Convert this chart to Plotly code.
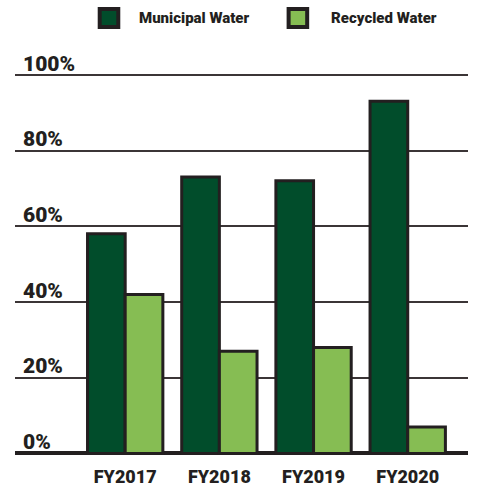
import plotly.graph_objects as go

categories = ["FY2017", "FY2018", "FY2019", "FY2020"]
municipal = [58, 73, 72, 93]
recycled = [42, 27, 28, 7]
tick_vals = [0, 20, 40, 60, 80, 100]
tick_text = ["0%", "20%", "40%", "60%", "80%", "100%"]

DARK = "#014d2b"
LIGHT = "#86bd53"
INK = "#231f20"
FONT = "Roboto, Liberation Sans, sans-serif"

fig = go.Figure()
fig.add_trace(go.Bar(x=categories, y=municipal, name="Municipal Water",
                     marker=dict(color=DARK, line=dict(color=INK, width=3)),
                     showlegend=False))
fig.add_trace(go.Bar(x=categories, y=recycled, name="Recycled Water",
                     marker=dict(color=LIGHT, line=dict(color=INK, width=3)),
                     showlegend=False))

# manual legend
legend_items = [("Municipal Water", DARK, 0.187, 0.228, 0.269),
                ("Recycled Water", LIGHT, 0.604, 0.645, 0.693)]
for name, col, x0, x1, xt in legend_items:
    fig.add_shape(type="rect", xref="paper", yref="paper", x0=x0, x1=x1,
                  y0=1.0236, y1=1.0661, fillcolor=col, line=dict(color=INK, width=4))
    fig.add_annotation(text=name, xref="paper", yref="paper",
                       x=xt, y=1.0449, xanchor="left", yanchor="middle",
                       showarrow=False,
                       font=dict(family=FONT, size=15, color=INK, weight=900))

fig.update_layout(
    width=478, height=486,
    margin=dict(l=15, r=10, t=37, b=25.44, autoexpand=False),
    paper_bgcolor="white", plot_bgcolor="white",
    barmode="group", bargap=0.2, bargroupgap=0,
    font=dict(family=FONT, color=INK),
)
fig.update_xaxes(range=[-1.17, 3.64], showgrid=False, showline=False, zeroline=False,
                 ticks="", automargin=False,
                 tickfont=dict(family=FONT, size=18, color=INK, weight=900),
                 ticklabelstandoff=3,
                 tickvals=categories, ticktext=categories)
fig.update_yaxes(range=[-2, 110], tickvals=tick_vals, ticktext=tick_text,
                 ticklabelposition="inside top", automargin=False,
                 ticklabelshift=3, ticklabelstandoff=5,
                 tickfont=dict(family=FONT, size=21, color=INK, weight=900),
                 showgrid=True, gridcolor="#3b3536", gridwidth=1.5,
                 zeroline=True, zerolinecolor=INK, zerolinewidth=3.5,
                 showline=False, ticks="")

fig.write_html("out.html", config={"displayModeBar": False},
               post_script="document.body.style.margin='0';document.body.style.overflow='hidden';")
